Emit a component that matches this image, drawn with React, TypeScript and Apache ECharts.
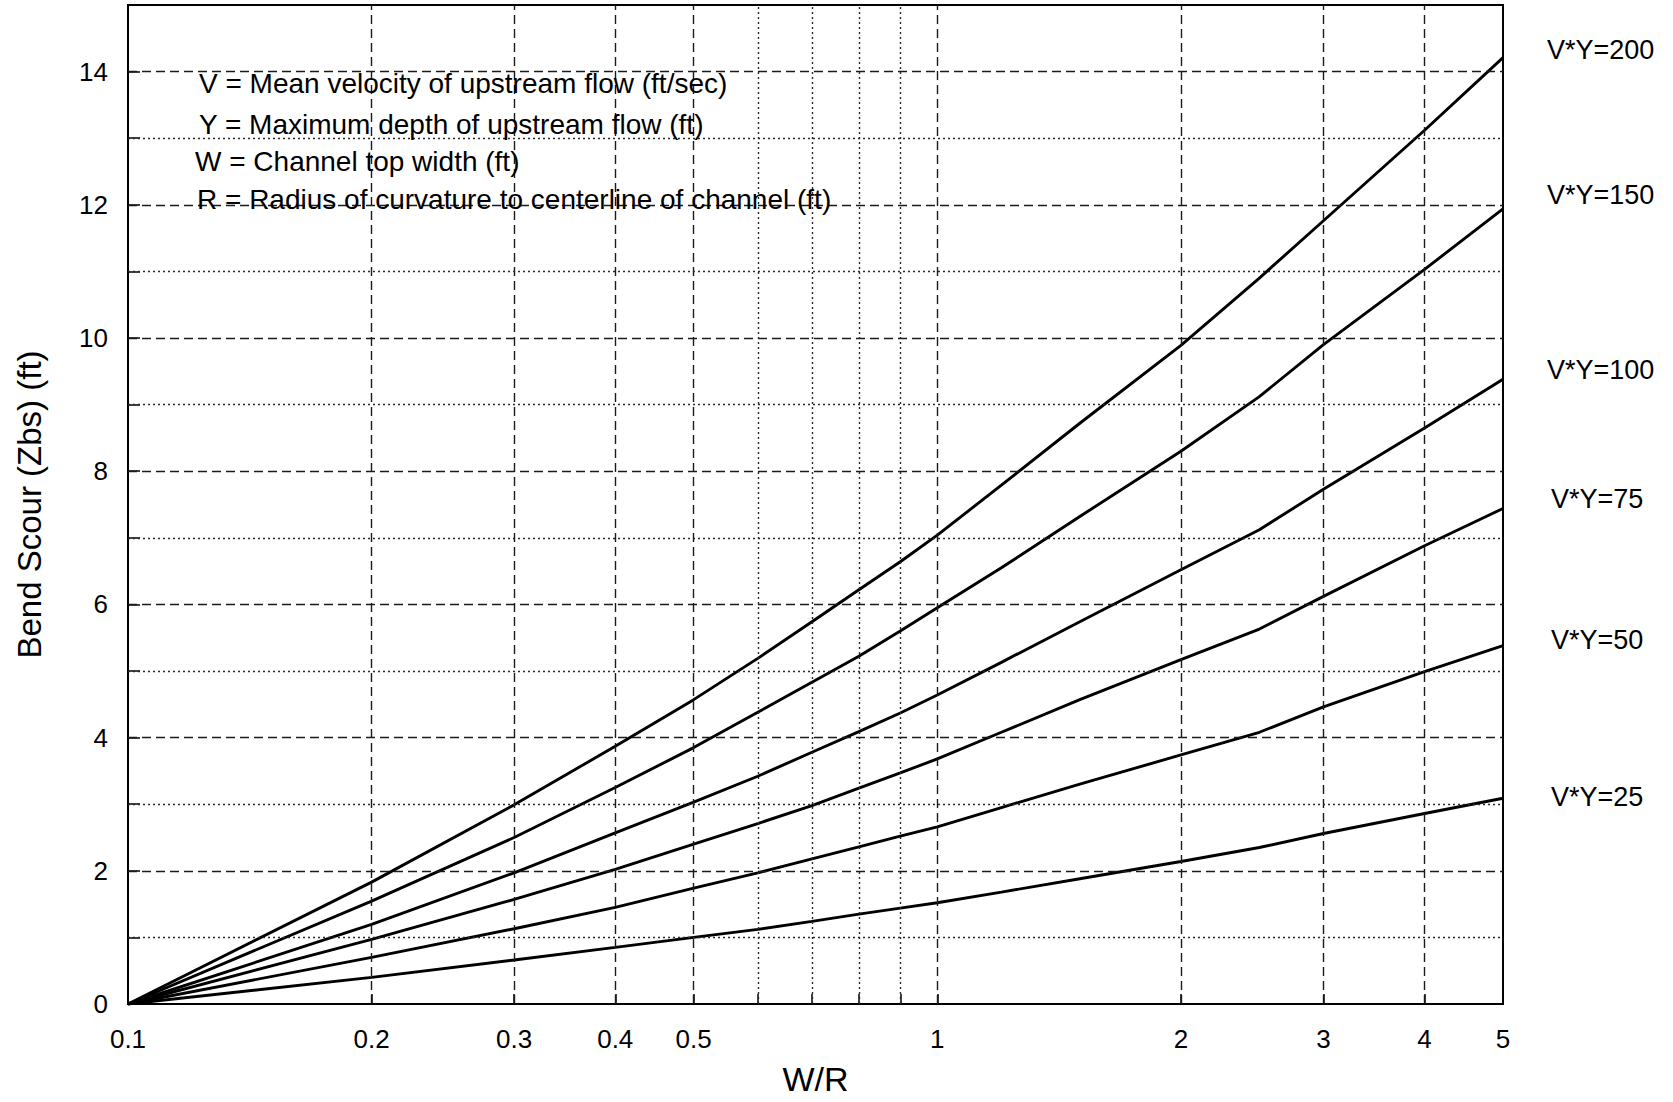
import React, { useEffect, useRef } from "react";
import * as echarts from "echarts";

// W/R values at which the curves were read
const WR = [0.1, 0.2, 0.3, 0.4, 0.5, 0.6, 0.7, 0.8, 0.9, 1.0, 1.2, 1.5, 2.0, 2.5, 3.0, 4.0, 5.0];

// Bend scour (ft) for each V*Y curve
const VY200 = [0, 1.83, 2.99, 3.87, 4.57, 5.19, 5.74, 6.22, 6.64, 7.04, 7.79, 8.72, 9.89, 10.9, 11.76, 13.12, 14.21];
const VY150 = [0, 1.545, 2.5, 3.25, 3.85, 4.38, 4.83, 5.22, 5.6, 5.95, 6.55, 7.32, 8.3, 9.12, 9.9, 11.03, 11.94];
const VY100 = [0, 1.196, 1.97, 2.57, 3.03, 3.42, 3.78, 4.09, 4.37, 4.64, 5.13, 5.74, 6.52, 7.12, 7.73, 8.65, 9.38];
const VY75 = [0, 0.97, 1.57, 2.02, 2.4, 2.71, 2.98, 3.24, 3.47, 3.68, 4.08, 4.57, 5.17, 5.63, 6.12, 6.88, 7.44];
const VY50 = [0, 0.7, 1.13, 1.45, 1.74, 1.97, 2.18, 2.36, 2.52, 2.66, 2.95, 3.3, 3.74, 4.08, 4.46, 4.99, 5.38];
const VY25 = [0, 0.4, 0.66, 0.85, 1.0, 1.12, 1.24, 1.35, 1.44, 1.52, 1.68, 1.88, 2.14, 2.35, 2.56, 2.86, 3.09];

const SERIES_VALUES = [VY200, VY150, VY100, VY75, VY50, VY25];
const SERIES_NAMES = ["V*Y=200", "V*Y=150", "V*Y=100", "V*Y=75", "V*Y=50", "V*Y=25"];

// Axis ticks and grid
const X_LABELS = [0.1, 0.2, 0.3, 0.4, 0.5, 1, 2, 3, 4, 5];
const X_TICKS = [0.2, 0.3, 0.4, 0.5, 0.6, 0.7, 0.8, 0.9, 1, 2, 3, 4];
const X_MAJOR_GRID = [0.2, 0.3, 0.4, 0.5, 1, 2, 3, 4];
const X_MINOR_GRID = [0.6, 0.7, 0.8, 0.9];
const Y_MAJOR_GRID = [2, 4, 6, 8, 10, 12, 14];
const Y_MINOR_GRID = [1, 3, 5, 7, 9, 11, 13];
const Y_MIN = 0;
const Y_MAX = 15;

const LEGEND_TEXT = [
  "V = Mean velocity of upstream flow (ft/sec)",
  "Y = Maximum depth of upstream flow (ft)",
  "W = Channel top width (ft)",
  "R = Radius of curvature to centerline of channel (ft)",
];

const FONT = "'Liberation Sans', Arial, Helvetica, sans-serif";

export default function App() {
  const ref = useRef<HTMLDivElement>(null);

  useEffect(() => {
    if (!ref.current) return;
    const chart = echarts.init(ref.current, null, { renderer: "svg" });

    const labelOffsets = [
      [44, -8],
      [44, -14],
      [44, -9],
      [48, -9],
      [48, -6],
      [48, -1],
    ];

    const dashed = { color: "#1a1a1a", width: 1.4, type: [9, 5] as any };
    const dotted = { color: "#2a2a2a", width: 1.4, type: [2, 3] as any };

    const gridSeries: any[] = [
      {
        type: "line",
        name: "grid-major",
        data: [[WR[0], 0]],
        symbol: "none",
        silent: true,
        z: 1,
        lineStyle: { width: 0 },
        markLine: {
          silent: true,
          symbol: ["none", "none"],
          label: { show: false },
          lineStyle: dashed,
          animation: false,
          data: [
            ...X_MAJOR_GRID.map((v) => ({ xAxis: v })),
            ...Y_MAJOR_GRID.map((v) => ({ yAxis: v })),
          ],
        },
      },
      {
        type: "line",
        name: "grid-minor",
        data: [[WR[0], 0]],
        symbol: "none",
        silent: true,
        z: 1,
        lineStyle: { width: 0 },
        markLine: {
          silent: true,
          symbol: ["none", "none"],
          label: { show: false },
          lineStyle: dotted,
          animation: false,
          data: [
            ...X_MINOR_GRID.map((v) => ({ xAxis: v })),
            ...Y_MINOR_GRID.map((v) => ({ yAxis: v })),
          ],
        },
      },
    ];

    const curveSeries = SERIES_VALUES.map((vals, i) => ({
      type: "line",
      name: SERIES_NAMES[i],
      data: WR.map((x, j) => [x, vals[j]]),
      symbol: "none",
      smooth: false,
      z: 3,
      lineStyle: { color: "#000", width: 2.9 },
      endLabel: {
        show: true,
        formatter: SERIES_NAMES[i],
        distance: 0,
        offset: labelOffsets[i],
        align: "left",
        verticalAlign: "middle",
        color: "#000",
        fontSize: 27,
        fontFamily: FONT,
      },
    }));

    chart.setOption({
      animation: false,
      backgroundColor: "#fff",
      grid: {
        left: 128,
        right: 170,
        top: 5,
        bottom: 98,
        show: true,
        borderColor: "#000",
        borderWidth: 2,
        containLabel: false,
      },
      xAxis: {
        type: "log",
        logBase: 10,
        min: 0.1,
        max: 5,
        name: "W/R",
        nameLocation: "middle",
        nameGap: 58,
        nameTextStyle: { fontSize: 34, color: "#000", fontFamily: FONT },
        axisLine: { show: true, lineStyle: { color: "#000", width: 2 } },
        axisTick: {
          show: true,
          inside: true,
          length: 10,
          customValues: X_TICKS,
          lineStyle: { color: "#000", width: 1.5 },
        },
        axisLabel: {
          show: true,
          customValues: X_LABELS,
          margin: 22,
          fontSize: 26,
          color: "#000",
          fontFamily: FONT,
          showMinLabel: true,
          showMaxLabel: true,
          formatter: (v: number) => String(parseFloat(Number(v).toFixed(2))),
        },
        splitLine: { show: false },
        minorTick: { show: false },
        minorSplitLine: { show: false },
      },
      yAxis: {
        type: "value",
        min: Y_MIN,
        max: Y_MAX,
        interval: 1,
        name: "Bend Scour (Zbs) (ft)",
        nameLocation: "middle",
        nameRotate: 90,
        nameGap: 82,
        nameTextStyle: { fontSize: 33, color: "#000", fontFamily: FONT },
        axisLine: { show: true, lineStyle: { color: "#000", width: 2 } },
        axisTick: {
          show: true,
          inside: true,
          length: 12,
          lineStyle: { color: "#000", width: 1.5 },
        },
        axisLabel: {
          margin: 20,
          fontSize: 26,
          color: "#000",
          fontFamily: FONT,
          formatter: (v: number) => (v % 2 === 0 && v < Y_MAX ? String(v) : ""),
        },
        splitLine: { show: false },
      },
      graphic: LEGEND_TEXT.map((t, i) => ({
        type: "text",
        x: [199, 199, 195, 197][i],
        y: [83, 124, 161, 199][i],
        z: 10,
        style: {
          text: t,
          fontSize: 28,
          fontFamily: FONT,
          fill: "#000",
          verticalAlign: "middle",
          align: "left",
        },
      })),
      series: [...gridSeries, ...curveSeries],
    });

    return () => chart.dispose();
  }, []);

  return (
    <div
      ref={ref}
      style={{ position: "fixed", left: 0, top: 0, width: 1673, height: 1102 }}
    />
  );
}
